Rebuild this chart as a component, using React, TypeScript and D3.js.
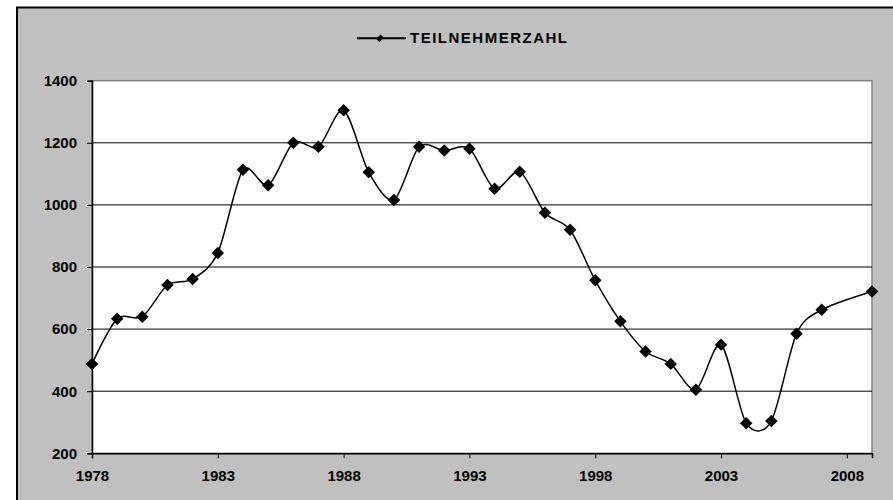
import { useEffect, useRef } from "react";
import * as d3 from "d3";

// Jahre und Teilnehmerzahlen (2008 ohne Wert, Linie wird durchgezogen)
const years = [
  1978, 1979, 1980, 1981, 1982, 1983, 1984, 1985, 1986, 1987, 1988, 1989,
  1990, 1991, 1992, 1993, 1994, 1995, 1996, 1997, 1998, 1999, 2000, 2001,
  2002, 2003, 2004, 2005, 2006, 2007, 2008, 2009,
];
const teilnehmer: (number | null)[] = [
  488, 633, 640, 742, 761, 845, 1113, 1063, 1200, 1187, 1305, 1105, 1016,
  1187, 1175, 1181, 1052, 1107, 975, 920, 757, 625, 528, 488, 405, 550, 297,
  304, 585, 662, null, 721,
];
const yTicks = [200, 400, 600, 800, 1000, 1200, 1400];
const xTicks = [1978, 1983, 1988, 1993, 1998, 2003, 2008];
const seriesName = "TEILNEHMERZAHL";

const width = 893;
const height = 500;
const font = "'Liberation Sans', Arial, sans-serif";

const App: React.FC = () => {
  const chartRef = useRef<SVGSVGElement>(null);

  useEffect(() => {
    const svg = d3.select(chartRef.current);
    svg.selectAll("*").remove();

    const left = 92;
    const right = 872;
    const top = 80.7;
    const bottom = 453.3;

    const xScale = d3.scaleLinear().domain([1978, 2009]).range([left, right]);
    const yScale = d3.scaleLinear().domain([200, 1400]).range([bottom, top]);

    // Hintergrund / Diagrammfläche
    svg
      .append("rect")
      .attr("x", 17)
      .attr("y", 7.5)
      .attr("width", 1000)
      .attr("height", 600)
      .attr("fill", "#C0C0C0")
      .attr("stroke", "#000")
      .attr("stroke-width", 2);

    // Zeichnungsfläche
    svg
      .append("rect")
      .attr("x", left)
      .attr("y", top)
      .attr("width", right - left)
      .attr("height", bottom - top)
      .attr("fill", "#FFFFFF")
      .attr("stroke", "#808080")
      .attr("stroke-width", 1.5);

    // Gitterlinien
    svg
      .append("g")
      .selectAll("line")
      .data(yTicks.filter((t) => t > 200 && t < 1400))
      .enter()
      .append("line")
      .attr("x1", left)
      .attr("x2", right)
      .attr("y1", (d) => yScale(d))
      .attr("y2", (d) => yScale(d))
      .attr("stroke", "#000")
      .attr("stroke-width", 1);

    // Y-Achse
    svg
      .append("g")
      .attr("transform", `translate(${left},0)`)
      .call(
        d3
          .axisLeft(yScale)
          .tickValues(yTicks)
          .tickSize(5)
          .tickPadding(10)
          .tickFormat((d) => String(d))
      )
      .call((g) => g.select(".domain").attr("stroke", "#000").attr("stroke-width", 1.5))
      .call((g) => g.selectAll(".tick line").attr("stroke", "#000"))
      .call((g) =>
        g
          .selectAll(".tick text")
          .attr("fill", "#000")
          .attr("font-family", font)
          .attr("font-weight", "bold")
          .attr("font-size", 15)
      );

    // X-Achse
    svg
      .append("g")
      .attr("transform", `translate(0,${bottom})`)
      .call(
        d3
          .axisBottom(xScale)
          .tickValues(xTicks)
          .tickSize(5)
          .tickPadding(12)
          .tickFormat((d) => String(d))
      )
      .call((g) => g.select(".domain").attr("stroke", "#000").attr("stroke-width", 1.5))
      .call((g) => g.selectAll(".tick line").attr("stroke", "#000"))
      .call((g) =>
        g
          .selectAll(".tick text")
          .attr("fill", "#000")
          .attr("font-family", font)
          .attr("font-weight", "bold")
          .attr("font-size", 15)
      );

    const data = years
      .map((y, i) => ({ x: y, y: teilnehmer[i] }))
      .filter((d) => d.y !== null) as { x: number; y: number }[];

    // Geglättete Linie
    const line = d3
      .line<{ x: number; y: number }>()
      .x((d) => xScale(d.x))
      .y((d) => yScale(d.y))
      .curve(d3.curveCardinal.tension(0.15));

    svg
      .append("path")
      .datum(data)
      .attr("fill", "none")
      .attr("stroke", "#000")
      .attr("stroke-width", 1.5)
      .attr("d", line);

    // Rauten
    const diamond = d3.symbol().type(d3.symbolSquare).size(78);
    svg
      .selectAll("path.marker")
      .data(data)
      .enter()
      .append("path")
      .attr("class", "marker")
      .attr("d", diamond)
      .attr(
        "transform",
        (d) => `translate(${xScale(d.x)},${yScale(d.y)}) rotate(45)`
      )
      .attr("fill", "#000");

    // Legende
    const legend = svg.append("g").attr("transform", "translate(357,38.3)");
    legend
      .append("line")
      .attr("x1", 0)
      .attr("x2", 49)
      .attr("stroke", "#000")
      .attr("stroke-width", 2);
    legend
      .append("path")
      .attr("d", d3.symbol().type(d3.symbolSquare).size(26)())
      .attr("transform", "translate(23,0) rotate(45) scale(0.9,1.2)")
      .attr("fill", "#000");
    legend
      .append("text")
      .attr("x", 53)
      .attr("y", 4.4)
      .attr("font-family", font)
      .attr("font-weight", "bold")
      .attr("font-size", 15)
      .attr("letter-spacing", 1.5)
      .attr("fill", "#000")
      .text(seriesName);
  }, []);

  return (
    <svg
      ref={chartRef}
      width={width}
      height={height}
      style={{ position: "absolute", left: 0, top: 0, background: "#fff" }}
    />
  );
};

export default App;
